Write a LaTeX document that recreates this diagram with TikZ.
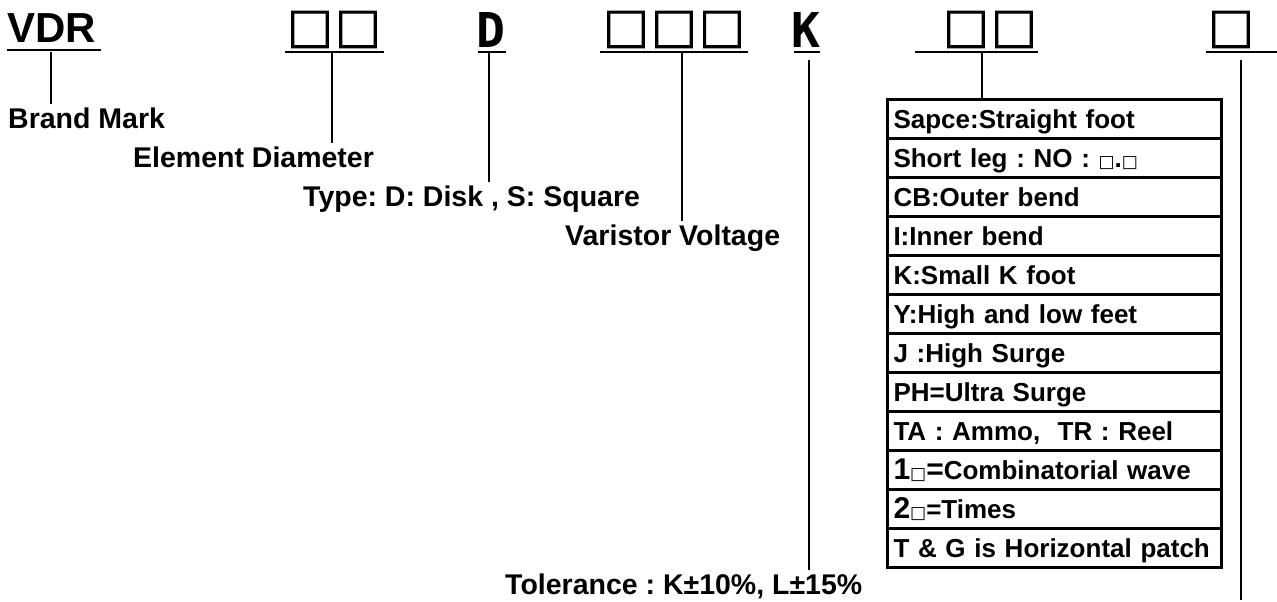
\documentclass[tikz,border=0pt]{standalone}
\usepackage{fontspec}
\setmainfont{Liberation Sans}
\newfontfamily\cjkf[BoldFeatures={FakeBold=2}]{Noto Sans CJK SC}
\newfontfamily\monof{DejaVu Sans Mono}
\newfontfamily\dejaf{DejaVu Sans}
\newcommand\bigsq{\makebox[48pt]{\cjkf\bfseries\fontsize{46}{46}\selectfont □}}
\newcommand\smsq{{\dejaf\fontsize{17}{17}\selectfont □}}
\frenchspacing
\tikzset{
  conn/.style={line width=2pt, line cap=butt},
  uline/.style={line width=2.5pt},
  lbl/.style={font=\bfseries\fontsize{28.5}{28.5}\selectfont, inner sep=3pt},
  grp/.style={inner sep=0pt, anchor=south},
  letter/.style={inner sep=0pt, anchor=south, font=\monof\bfseries\fontsize{48}{48}\selectfont},
  cell/.style={draw, line width=3pt, anchor=north west, minimum width=334pt, minimum height=39pt,
    text width=322pt, inner xsep=6pt, inner ysep=0pt, align=left, text height=18pt, text depth=0pt,
    font=\bfseries\fontsize{26}{26}\selectfont}
}
\begin{document}
\begin{tikzpicture}[x=1pt, y=-1pt]
\useasboundingbox (0,0) rectangle (1277,602);
\fill[white] (0,0) rectangle (1277,602);

% top row
\node[inner sep=0pt, anchor=base west, font=\bfseries\fontsize{42}{42}\selectfont] (vdr) at (7,43) {VDR};
\node[grp] (g1) at (334,48) {\bigsq\bigsq};
\node[letter] (dd) at (491,48) {D};
\node[grp] (g2) at (674,48) {\bigsq\bigsq\bigsq};
\node[letter] (kk) at (806,48) {K};
\node[grp] (g3) at (990,48) {\bigsq\bigsq};
\node[grp] (g4) at (1231,48) {\bigsq};

% underlines
\draw[uline] (7,50) -- (101,50);
\draw[uline] (285,52) -- (384,52);
\draw[uline] (478,52) -- (506,52);
\draw[uline] (600,52) -- (748,52);
\draw[uline] (794,52) -- (820,52);
\draw[uline] (915,52) -- (1038,52);
\draw[uline] (1206,52) -- (1277,52);

% labels
\node[lbl, anchor=base west] (brand) at (5,128) {Brand Mark};
\node[lbl, anchor=base west] (elem) at (130,167) {Element Diameter};
\node[lbl, anchor=base west] (type) at (300,206) {Type: D: Disk , S: Square};
\node[lbl, anchor=base west] (vari) at (562,245) {Varistor Voltage};
\node[lbl, anchor=base west] (tol) at (502,594) {Tolerance : K±10\%, L±15\%};

% table
\node[cell] (r1) at (886,98) {Sapce:Straight foot};
\node[cell] (r2) at (886,137) {Short leg : NO : \smsq.\smsq};
\node[cell] (r3) at (886,176) {CB:Outer bend};
\node[cell] (r4) at (886,215) {I:Inner bend};
\node[cell] (r5) at (886,254) {K:Small K foot};
\node[cell] (r6) at (886,293) {Y:High and low feet};
\node[cell] (r7) at (886,332) {J :High Surge};
\node[cell] (r8) at (886,371) {PH=Ultra Surge};
\node[cell] (r9) at (886,410) {TA : Ammo,\ \ TR : Reel};
\node[cell] (r10) at (886,449) {{\fontsize{30}{30}\selectfont 1}\smsq{\fontsize{30}{30}\selectfont =}Combinatorial wave};
\node[cell] (r11) at (886,488) {{\fontsize{30}{30}\selectfont 2}\smsq=Times};
\node[cell] (r12) at (886,527) {T \& G is Horizontal patch};

% connectors
\coordinate (c0) at (51,52);
\draw[conn] (c0) -- (c0 |- brand.north);
\coordinate (c1) at (332,53);
\draw[conn] (c1) -- (c1 |- elem.north);
\coordinate (c2) at (489,53);
\draw[conn] (c2) -- (c2 |- type.north);
\coordinate (c3) at (682,53);
\draw[conn] (c3) -- (c3 |- vari.north);
\coordinate (c4) at (809,60);
\draw[conn] (c4) -- (c4 |- tol.north);
\coordinate (c5) at (982,53);
\draw[conn] (c5) -- (c5 |- r1.north);
\coordinate (c6) at (1241,60);
\coordinate (c6end) at (1241,600);
\draw[conn] (c6) -- (c6end);
\end{tikzpicture}
\end{document}
